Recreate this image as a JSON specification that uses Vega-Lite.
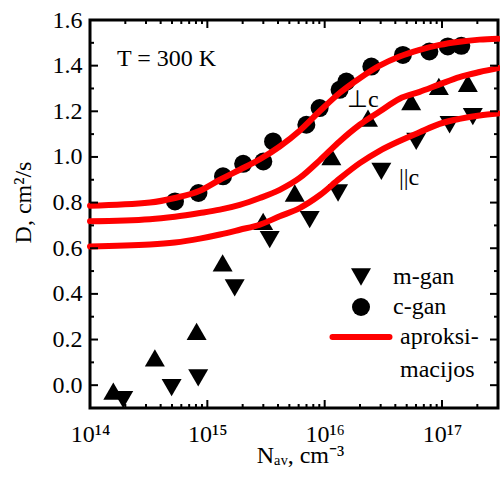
{
  "$schema": "https://vega.github.io/schema/vega-lite/v6.json",
  "width": 408,
  "height": 388,
  "autosize": {"type": "none"},
  "padding": {"left": 90, "top": 20, "right": 2, "bottom": 71},
  "background": "white",
  "config": {
    "view": {"stroke": "black", "strokeWidth": 3},
    "font": "Liberation Serif",
    "axis": {"grid": false, "domain": false, "ticks": false, "labelColor": "black", "labelFont": "Liberation Serif", "labelFontSize": 24, "titleFont": "Liberation Serif", "titleFontSize": 24, "titleFontWeight": "normal", "titleColor": "black", "labelFlush": false, "labelOverlap": false, "labelBound": false}
  },
  "resolve": {"axis": {"x": "independent", "y": "independent"}},
  "datasets": {
    "points": [
      {"N": 5.3e14, "D": 0.805, "series": "c-gan"},
      {"N": 8.4e14, "D": 0.842, "series": "c-gan"},
      {"N": 1.36e15, "D": 0.915, "series": "c-gan"},
      {"N": 2.02e15, "D": 0.97, "series": "c-gan"},
      {"N": 3.0e15, "D": 0.98, "series": "c-gan"},
      {"N": 3.63e15, "D": 1.068, "series": "c-gan"},
      {"N": 6.98e15, "D": 1.141, "series": "c-gan"},
      {"N": 9.06e15, "D": 1.214, "series": "c-gan"},
      {"N": 1.34e16, "D": 1.294, "series": "c-gan"},
      {"N": 1.53e16, "D": 1.33, "series": "c-gan"},
      {"N": 2.5e16, "D": 1.396, "series": "c-gan"},
      {"N": 4.64e16, "D": 1.447, "series": "c-gan"},
      {"N": 7.8e16, "D": 1.462, "series": "c-gan"},
      {"N": 1.12e17, "D": 1.484, "series": "c-gan"},
      {"N": 1.46e17, "D": 1.487, "series": "c-gan"},
      {"N": 1.58e14, "D": -0.026, "series": "m-gan ⊥c"},
      {"N": 3.57e14, "D": 0.12, "series": "m-gan ⊥c"},
      {"N": 8.1e14, "D": 0.236, "series": "m-gan ⊥c"},
      {"N": 1.35e15, "D": 0.536, "series": "m-gan ⊥c"},
      {"N": 2.99e15, "D": 0.718, "series": "m-gan ⊥c"},
      {"N": 5.56e15, "D": 0.842, "series": "m-gan ⊥c"},
      {"N": 1.14e16, "D": 1.002, "series": "m-gan ⊥c"},
      {"N": 2.34e16, "D": 1.17, "series": "m-gan ⊥c"},
      {"N": 5.46e16, "D": 1.243, "series": "m-gan ⊥c"},
      {"N": 9.4e16, "D": 1.309, "series": "m-gan ⊥c"},
      {"N": 1.66e17, "D": 1.323, "series": "m-gan ⊥c"},
      {"N": 1.92e14, "D": -0.063, "series": "m-gan"},
      {"N": 4.96e14, "D": -0.011, "series": "m-gan"},
      {"N": 8.36e14, "D": 0.032, "series": "m-gan"},
      {"N": 1.71e15, "D": 0.426, "series": "m-gan"},
      {"N": 3.4e15, "D": 0.638, "series": "m-gan"},
      {"N": 7.45e15, "D": 0.725, "series": "m-gan"},
      {"N": 1.3e16, "D": 0.842, "series": "m-gan"},
      {"N": 3.04e16, "D": 0.937, "series": "m-gan"},
      {"N": 6.03e16, "D": 1.068, "series": "m-gan"},
      {"N": 1.16e17, "D": 1.141, "series": "m-gan"},
      {"N": 1.83e17, "D": 1.177, "series": "m-gan"}
    ],
    "curves": [
      {"N": 1e14, "D": 0.786, "curve": "c-gan"},
      {"N": 3.24e14, "D": 0.8, "curve": "c-gan"},
      {"N": 5.28e14, "D": 0.82, "curve": "c-gan"},
      {"N": 8.63e14, "D": 0.852, "curve": "c-gan"},
      {"N": 1.28e15, "D": 0.9, "curve": "c-gan"},
      {"N": 1.89e15, "D": 0.944, "curve": "c-gan"},
      {"N": 2.8e15, "D": 0.99, "curve": "c-gan"},
      {"N": 4.14e15, "D": 1.046, "curve": "c-gan"},
      {"N": 6.12e15, "D": 1.115, "curve": "c-gan"},
      {"N": 9.06e15, "D": 1.2, "curve": "c-gan"},
      {"N": 1.34e16, "D": 1.28, "curve": "c-gan"},
      {"N": 1.99e16, "D": 1.345, "curve": "c-gan"},
      {"N": 2.94e16, "D": 1.4, "curve": "c-gan"},
      {"N": 4.35e16, "D": 1.44, "curve": "c-gan"},
      {"N": 6.44e16, "D": 1.469, "curve": "c-gan"},
      {"N": 9.53e16, "D": 1.491, "curve": "c-gan"},
      {"N": 1.41e17, "D": 1.505, "curve": "c-gan"},
      {"N": 2.09e17, "D": 1.514, "curve": "c-gan"},
      {"N": 3e17, "D": 1.518, "curve": "c-gan"},
      {"N": 1e14, "D": 0.718, "curve": "perp"},
      {"N": 3.24e14, "D": 0.727, "curve": "perp"},
      {"N": 5.28e14, "D": 0.738, "curve": "perp"},
      {"N": 8.63e14, "D": 0.754, "curve": "perp"},
      {"N": 1.28e15, "D": 0.769, "curve": "perp"},
      {"N": 1.89e15, "D": 0.79, "curve": "perp"},
      {"N": 2.8e15, "D": 0.82, "curve": "perp"},
      {"N": 4.14e15, "D": 0.856, "curve": "perp"},
      {"N": 6.12e15, "D": 0.908, "curve": "perp"},
      {"N": 9.06e15, "D": 0.985, "curve": "perp"},
      {"N": 1.34e16, "D": 1.068, "curve": "perp"},
      {"N": 1.99e16, "D": 1.141, "curve": "perp"},
      {"N": 2.94e16, "D": 1.199, "curve": "perp"},
      {"N": 4.35e16, "D": 1.255, "curve": "perp"},
      {"N": 6.44e16, "D": 1.285, "curve": "perp"},
      {"N": 9.53e16, "D": 1.318, "curve": "perp"},
      {"N": 1.41e17, "D": 1.35, "curve": "perp"},
      {"N": 2.09e17, "D": 1.372, "curve": "perp"},
      {"N": 3e17, "D": 1.389, "curve": "perp"},
      {"N": 1e14, "D": 0.608, "curve": "par"},
      {"N": 3.24e14, "D": 0.616, "curve": "par"},
      {"N": 5.28e14, "D": 0.625, "curve": "par"},
      {"N": 8.63e14, "D": 0.642, "curve": "par"},
      {"N": 1.28e15, "D": 0.66, "curve": "par"},
      {"N": 1.89e15, "D": 0.681, "curve": "par"},
      {"N": 2.8e15, "D": 0.703, "curve": "par"},
      {"N": 4.14e15, "D": 0.74, "curve": "par"},
      {"N": 6.12e15, "D": 0.776, "curve": "par"},
      {"N": 9.06e15, "D": 0.832, "curve": "par"},
      {"N": 1.34e16, "D": 0.905, "curve": "par"},
      {"N": 1.99e16, "D": 0.973, "curve": "par"},
      {"N": 2.94e16, "D": 1.027, "curve": "par"},
      {"N": 4.35e16, "D": 1.07, "curve": "par"},
      {"N": 6.44e16, "D": 1.108, "curve": "par"},
      {"N": 9.53e16, "D": 1.145, "curve": "par"},
      {"N": 1.41e17, "D": 1.167, "curve": "par"},
      {"N": 2.09e17, "D": 1.182, "curve": "par"},
      {"N": 3e17, "D": 1.19, "curve": "par"}
    ],
    "notes": [
      {"N": 1.7e14, "D": 1.43, "label": "T = 300 K"},
      {"N": 1.55e16, "D": 1.25, "label": "⊥c"},
      {"N": 4.3e16, "D": 0.909, "label": "||c"}
    ],
    "xmajor": [{"v": 1e14}, {"v": 1e15}, {"v": 1e16}, {"v": 1e17}],
    "xminor": [{"v": 2e14}, {"v": 3e14}, {"v": 4e14}, {"v": 5e14}, {"v": 6e14}, {"v": 7e14}, {"v": 8e14}, {"v": 9e14}, {"v": 2e15}, {"v": 3e15}, {"v": 4e15}, {"v": 5e15}, {"v": 6e15}, {"v": 7e15}, {"v": 8e15}, {"v": 9e15}, {"v": 2e16}, {"v": 3e16}, {"v": 4e16}, {"v": 5e16}, {"v": 6e16}, {"v": 7e16}, {"v": 8e16}, {"v": 9e16}, {"v": 2e17}],
    "ymajor": [{"v": 0}, {"v": 0.2}, {"v": 0.4}, {"v": 0.6}, {"v": 0.8}, {"v": 1.0}, {"v": 1.2}, {"v": 1.4}],
    "yminor": [{"v": 0.1}, {"v": 0.3}, {"v": 0.5}, {"v": 0.7}, {"v": 0.9}, {"v": 1.1}, {"v": 1.3}, {"v": 1.5}]
  },
  "layer": [
    {
      "data": {"name": "points"},
      "transform": [{"filter": "datum.series != 'c-gan'"}],
      "mark": {"type": "point", "filled": true, "opacity": 1, "size": 400},
      "encoding": {
        "x": {
          "field": "N", "type": "quantitative",
          "scale": {"type": "log", "domain": [1e14, 3e17], "nice": false},
          "axis": {
            "orient": "bottom",
            "values": [1e14, 1e15, 1e16, 1e17],
            "labelExpr": "datum.value == 1e14 ? '10¹⁴' : datum.value == 1e15 ? '10¹⁵' : datum.value == 1e16 ? '10¹⁶' : '10¹⁷'",
            "labelPadding": 14,
            "labelBaseline": "top",
            "title": "Nₐᵥ, cm⁻³",
            "titleX": 210, "titleY": 47, "titleBaseline": "middle", "titleAlign": "center"
          }
        },
        "y": {
          "field": "D", "type": "quantitative",
          "scale": {"domain": [-0.1, 1.6], "nice": false, "zero": false},
          "axis": {
            "orient": "left",
            "values": [0, 0.2, 0.4, 0.6, 0.8, 1.0, 1.2, 1.4, 1.6],
            "format": ".1f",
            "labelPadding": 8,
            "title": "D, cm²/s",
            "titleX": -67, "titleY": 182, "titleAngle": 270, "titleBaseline": "middle", "titleAlign": "center"
          }
        },
        "color": {
          "field": "series", "type": "nominal",
          "scale": {"domain": ["m-gan", "c-gan", "aproksimacijos", "m-gan ⊥c"], "range": ["black", "black", "#ff0000", "black"]},
          "legend": {
            "orient": "none", "legendX": 259, "legendY": 245, "title": null, "padding": 0,
            "values": ["m-gan", "c-gan", "aproksimacijos"],
            "labelFont": "Liberation Serif", "labelFontSize": 24, "labelColor": "black", "labelLimit": 300,
            "labelOffset": 20, "rowPadding": 6, "symbolOpacity": 1,
            "labelExpr": "datum.value == 'aproksimacijos' ? ['aproksi-', 'macijos'] : datum.value",
            "encode": {
              "symbols": {"update": {
                "stroke": {"signal": "datum.value == 'aproksimacijos' ? '#ff0000' : 'black'"},
                "strokeWidth": {"signal": "datum.value == 'aproksimacijos' ? 6 : 0"},
                "size": {"signal": "datum.value == 'aproksimacijos' ? 3249 : datum.value == 'c-gan' ? 324 : 400"},
                "strokeCap": {"value": "round"}
              }},
              "labels": {"update": {
                "font": {"value": "Liberation Serif"},
                "fontSize": {"value": 24},
                "lineHeight": {"value": 33},
                "dx": {"signal": "datum.value == 'aproksimacijos' ? 7 : 0"}
              }}
            }
          }
        },
        "shape": {
          "field": "series", "type": "nominal",
          "scale": {"domain": ["m-gan", "c-gan", "aproksimacijos", "m-gan ⊥c"], "range": ["triangle-down", "circle", "stroke", "triangle-up"]}
        }
      }
    },
    {
      "data": {"name": "points"},
      "transform": [{"filter": "datum.series == 'c-gan'"}],
      "mark": {"type": "point", "filled": true, "opacity": 1, "size": 324},
      "encoding": {
        "x": {"field": "N", "type": "quantitative", "scale": {"type": "log", "domain": [1e14, 3e17], "nice": false}, "axis": null},
        "y": {"field": "D", "type": "quantitative", "scale": {"domain": [-0.1, 1.6], "nice": false, "zero": false}, "axis": null},
        "color": {
          "field": "series", "type": "nominal", "legend": null,
          "scale": {"domain": ["m-gan", "c-gan", "aproksimacijos", "m-gan ⊥c"], "range": ["black", "black", "#ff0000", "black"]}
        },
        "shape": {
          "field": "series", "type": "nominal", "legend": null,
          "scale": {"domain": ["m-gan", "c-gan", "aproksimacijos", "m-gan ⊥c"], "range": ["triangle-down", "circle", "stroke", "triangle-up"]}
        }
      }
    },
    {
      "data": {"name": "curves"},
      "mark": {"type": "line", "strokeWidth": 6, "interpolate": "monotone", "strokeCap": "round"},
      "encoding": {
        "x": {"field": "N", "type": "quantitative", "scale": {"type": "log", "domain": [1e14, 3e17], "nice": false}, "axis": null},
        "y": {"field": "D", "type": "quantitative", "scale": {"domain": [-0.1, 1.6], "nice": false, "zero": false}, "axis": null},
        "detail": {"field": "curve", "type": "nominal"},
        "color": {"value": "#ff0000"}
      }
    },
    {
      "data": {"name": "notes"},
      "mark": {"type": "text", "align": "left", "baseline": "middle", "font": "Liberation Serif", "fontSize": 24, "color": "black"},
      "encoding": {
        "x": {"field": "N", "type": "quantitative", "scale": {"type": "log", "domain": [1e14, 3e17], "nice": false}, "axis": null},
        "y": {"field": "D", "type": "quantitative", "scale": {"domain": [-0.1, 1.6], "nice": false, "zero": false}, "axis": null},
        "text": {"field": "label"}
      }
    },
    {
      "data": {"name": "xmajor"},
      "mark": {"type": "rule", "color": "black", "strokeWidth": 2, "y2Offset": -8},
      "encoding": {
        "x": {"field": "v", "type": "quantitative", "scale": {"type": "log", "domain": [1e14, 3e17], "nice": false}, "axis": null},
        "y": {"datum": -0.1, "type": "quantitative", "scale": {"domain": [-0.1, 1.6], "nice": false, "zero": false}, "axis": null},
        "y2": {"datum": -0.1}
      }
    },
    {
      "data": {"name": "xmajor"},
      "mark": {"type": "rule", "color": "black", "strokeWidth": 2, "y2Offset": 8},
      "encoding": {
        "x": {"field": "v", "type": "quantitative", "scale": {"type": "log", "domain": [1e14, 3e17], "nice": false}, "axis": null},
        "y": {"datum": 1.6, "type": "quantitative", "scale": {"domain": [-0.1, 1.6], "nice": false, "zero": false}, "axis": null},
        "y2": {"datum": 1.6}
      }
    },
    {
      "data": {"name": "xminor"},
      "mark": {"type": "rule", "color": "black", "strokeWidth": 2, "y2Offset": -4},
      "encoding": {
        "x": {"field": "v", "type": "quantitative", "scale": {"type": "log", "domain": [1e14, 3e17], "nice": false}, "axis": null},
        "y": {"datum": -0.1, "type": "quantitative", "scale": {"domain": [-0.1, 1.6], "nice": false, "zero": false}, "axis": null},
        "y2": {"datum": -0.1}
      }
    },
    {
      "data": {"name": "xminor"},
      "mark": {"type": "rule", "color": "black", "strokeWidth": 2, "y2Offset": 4},
      "encoding": {
        "x": {"field": "v", "type": "quantitative", "scale": {"type": "log", "domain": [1e14, 3e17], "nice": false}, "axis": null},
        "y": {"datum": 1.6, "type": "quantitative", "scale": {"domain": [-0.1, 1.6], "nice": false, "zero": false}, "axis": null},
        "y2": {"datum": 1.6}
      }
    },
    {
      "data": {"name": "ymajor"},
      "mark": {"type": "rule", "color": "black", "strokeWidth": 2, "x2Offset": 8},
      "encoding": {
        "y": {"field": "v", "type": "quantitative", "scale": {"domain": [-0.1, 1.6], "nice": false, "zero": false}, "axis": null},
        "x": {"datum": 1e14, "type": "quantitative", "scale": {"type": "log", "domain": [1e14, 3e17], "nice": false}, "axis": null},
        "x2": {"datum": 1e14}
      }
    },
    {
      "data": {"name": "ymajor"},
      "mark": {"type": "rule", "color": "black", "strokeWidth": 2, "x2Offset": -8},
      "encoding": {
        "y": {"field": "v", "type": "quantitative", "scale": {"domain": [-0.1, 1.6], "nice": false, "zero": false}, "axis": null},
        "x": {"datum": 3e17, "type": "quantitative", "scale": {"type": "log", "domain": [1e14, 3e17], "nice": false}, "axis": null},
        "x2": {"datum": 3e17}
      }
    },
    {
      "data": {"name": "yminor"},
      "mark": {"type": "rule", "color": "black", "strokeWidth": 2, "x2Offset": 4},
      "encoding": {
        "y": {"field": "v", "type": "quantitative", "scale": {"domain": [-0.1, 1.6], "nice": false, "zero": false}, "axis": null},
        "x": {"datum": 1e14, "type": "quantitative", "scale": {"type": "log", "domain": [1e14, 3e17], "nice": false}, "axis": null},
        "x2": {"datum": 1e14}
      }
    },
    {
      "data": {"name": "yminor"},
      "mark": {"type": "rule", "color": "black", "strokeWidth": 2, "x2Offset": -4},
      "encoding": {
        "y": {"field": "v", "type": "quantitative", "scale": {"domain": [-0.1, 1.6], "nice": false, "zero": false}, "axis": null},
        "x": {"datum": 3e17, "type": "quantitative", "scale": {"type": "log", "domain": [1e14, 3e17], "nice": false}, "axis": null},
        "x2": {"datum": 3e17}
      }
    }
  ]
}
